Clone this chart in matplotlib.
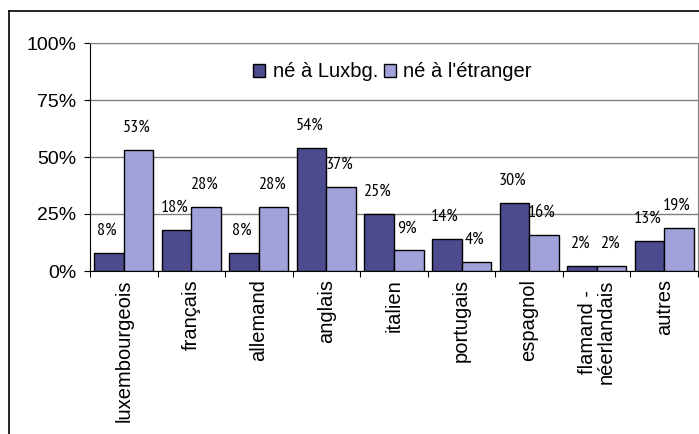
import matplotlib
matplotlib.use("Agg")
import matplotlib.pyplot as plt
import numpy as np
from matplotlib.lines import Line2D
from matplotlib.patches import Patch
from matplotlib.ticker import FixedLocator, PercentFormatter

categories = ["luxembourgeois", "français", "allemand", "anglais", "italien",
              "portugais", "espagnol", "flamand -\nnéerlandais", "autres"]
ne_lux = [8, 18, 8, 54, 25, 14, 30, 2, 13]
ne_etranger = [53, 28, 28, 37, 9, 4, 16, 2, 19]
series_names = ["né à Luxbg.", "né à l'étranger"]
yticks = [0, 25, 50, 75, 100]

DARK = "#4B4B8E"
LIGHT = "#A2A2DA"

plt.rcParams['font.family'] = ['Liberation Sans', 'DejaVu Sans']

fig = plt.figure(figsize=(6.99, 4.34), dpi=100)
ax = fig.add_axes((90 / 699, 1 - 271 / 434, 608 / 699, 228 / 434))

x = np.arange(len(categories))
w = 0.437
b1 = ax.bar(x - w / 2, ne_lux, w, color=DARK, edgecolor="black", linewidth=1, zorder=3)
b2 = ax.bar(x + w / 2, ne_etranger, w, color=LIGHT, edgecolor="black", linewidth=1, zorder=3)

# data labels sit well above each bar, in a narrow face
for bars, vals in ((b1, ne_lux), (b2, ne_etranger)):
    for r, v in zip(bars, vals):
        ax.annotate(f"{v}%", (r.get_x() + r.get_width() / 2, v),
                    xytext=(-1.5, 16), textcoords="offset points",
                    ha="center", va="center", fontsize=13,
                    family=['PT Sans Narrow', 'Liberation Sans'])

ax.set_xlim(-0.5, len(categories) - 0.5)
ax.set_ylim(0, 100)
ax.yaxis.set_major_locator(FixedLocator(yticks))
ax.yaxis.set_major_formatter(PercentFormatter(decimals=0))
ax.grid(axis="y", color="#808080", linewidth=1, zorder=0)

ax.set_xticks(np.arange(len(categories) + 1) - 0.5)
ax.set_xticklabels([])
ax.set_xticks(x, minor=True)
ax.set_xticklabels(categories, minor=True, rotation=90, va="top", ha="center",
                   fontsize=14.5, linespacing=0.95)
ax.tick_params(axis="x", which="minor", length=0, pad=6)
ax.tick_params(axis="x", which="major", length=4, direction="out", color="black")
ax.tick_params(axis="y", length=4, pad=6, labelsize=14, direction="out")

for s in ("top", "right"):
    ax.spines[s].set_color("#808080")
for s in ("left", "bottom"):
    ax.spines[s].set_color("black")

handles = [Patch(facecolor=DARK, edgecolor="black"), Patch(facecolor=LIGHT, edgecolor="black")]
ax.legend(handles, series_names, ncol=2, frameon=False, loc="center",
          bbox_to_anchor=(0.4975, 0.873), fontsize=14.5, handlelength=0.6,
          handleheight=0.6, handletextpad=0.35, columnspacing=0.3)

# outer chart frame (clipped by the image on the right and bottom)
fig.add_artist(Line2D([9 / 699, 9 / 699], [0, 1 - 11 / 434], color="black", linewidth=1.2))
fig.add_artist(Line2D([9 / 699, 1], [1 - 11 / 434, 1 - 11 / 434], color="black", linewidth=1.2))

fig.savefig("out.png", dpi=100)
